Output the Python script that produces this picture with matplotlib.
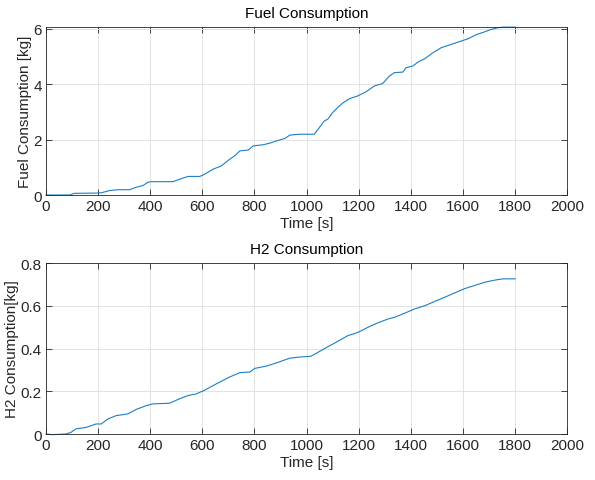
"""Fuel and H2 consumption over time, MATLAB-style two-panel figure."""

import matplotlib
matplotlib.use("Agg")
import matplotlib.pyplot as plt

# ==============================================================================
# Data
# ==============================================================================

fuel_t = [0, 90, 109, 192, 212, 244, 276, 320, 346, 372, 391, 404, 487, 513,
          545, 590, 605, 641, 673, 705, 724, 744, 776, 795, 833, 859, 885,
          917, 936, 974, 1029, 1049, 1068, 1081, 1100, 1119, 1138, 1164,
          1196, 1228, 1260, 1292, 1318, 1337, 1369, 1382, 1408, 1427, 1453,
          1485, 1517, 1555, 1594, 1619, 1651, 1683, 1709, 1735, 1754, 1800]
fuel_kg = [0.0, 0.0, 0.06, 0.07, 0.08, 0.16, 0.19, 0.19, 0.28, 0.34, 0.46,
           0.48, 0.48, 0.57, 0.67, 0.67, 0.73, 0.93, 1.05, 1.29, 1.41, 1.59,
           1.62, 1.77, 1.81, 1.87, 1.95, 2.04, 2.16, 2.19, 2.19, 2.43, 2.67,
           2.73, 2.97, 3.15, 3.31, 3.47, 3.57, 3.72, 3.93, 4.02, 4.29, 4.41,
           4.43, 4.59, 4.65, 4.79, 4.91, 5.13, 5.31, 5.43, 5.55, 5.63, 5.78,
           5.88, 5.97, 6.03, 6.05, 6.05]

h2_t = [0, 26, 77, 96, 115, 154, 192, 212, 237, 269, 314, 346, 385, 410,
        474, 513, 545, 577, 609, 654, 705, 744, 782, 801, 846, 885, 936,
        974, 1017, 1042, 1081, 1119, 1158, 1196, 1235, 1273, 1312, 1337,
        1376, 1414, 1453, 1491, 1530, 1568, 1606, 1645, 1683, 1722, 1754,
        1800]
h2_kg = [0.0, -0.003, 0.0, 0.008, 0.024, 0.031, 0.047, 0.047, 0.07, 0.086,
         0.094, 0.115, 0.133, 0.141, 0.144, 0.165, 0.18, 0.188, 0.205, 0.235,
         0.267, 0.287, 0.29, 0.307, 0.318, 0.333, 0.355, 0.36, 0.364, 0.381,
         0.408, 0.433, 0.46, 0.475, 0.499, 0.52, 0.538, 0.546, 0.565, 0.585,
         0.6, 0.62, 0.64, 0.66, 0.68, 0.695, 0.71, 0.72, 0.726, 0.726]

x_ticks = [0, 200, 400, 600, 800, 1000, 1200, 1400, 1600, 1800, 2000]

# ==============================================================================
# Plot
# ==============================================================================

plt.rcParams["font.family"] = ["Liberation Sans", "DejaVu Sans"]
plt.rcParams["font.size"] = 11

LINE = "#1a7fc6"
DARK = "#262626"

fig = plt.figure(figsize=(5.95, 4.81), dpi=100)
ax1 = fig.add_axes([0.0773, 0.5925, 0.876, 0.349])
ax2 = fig.add_axes([0.0773, 0.0956, 0.876, 0.3555])

panels = [
    (ax1, fuel_t, fuel_kg, "Fuel Consumption", "Fuel Consumption [kg]",
     (0, 6.05), [0, 2, 4, 6], ["0", "2", "4", "6"]),
    (ax2, h2_t, h2_kg, "H2 Consumption", "H2 Consumption[kg]",
     (0, 0.8), [0, 0.2, 0.4, 0.6, 0.8], ["0", "0.2", "0.4", "0.6", "0.8"]),
]

for ax, t, y, title, ylabel, ylim, yticks, ylabels in panels:
    ax.plot(t, y, color=LINE, lw=0.8, clip_on=False)
    ax.set_xlim(0, 2000)
    ax.set_ylim(*ylim)
    ax.set_xticks(x_ticks)
    ax.set_yticks(yticks)
    ax.set_yticklabels(ylabels)
    ax.set_title(title, fontsize=11, color="black", pad=7)
    ax.set_xlabel("Time [s]", color=DARK, labelpad=2)
    ax.set_ylabel(ylabel, color=DARK, labelpad=1)
    ax.grid(True, color="#dedede", lw=0.6)
    ax.set_axisbelow(True)
    ax.tick_params(direction="in", top=True, right=True, length=4,
                   width=0.6, colors=DARK, labelsize=11, pad=3)
    for sp in ax.spines.values():
        sp.set_color(DARK)
        sp.set_linewidth(0.6)

fig.savefig("out.png", dpi=100)
